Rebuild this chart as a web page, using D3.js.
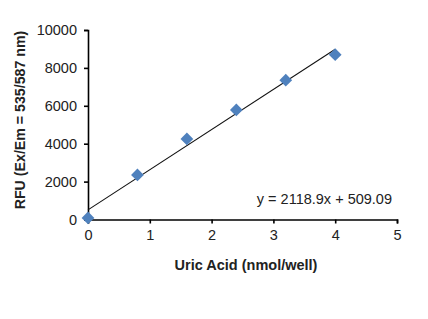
<!DOCTYPE html>
<html>
<head>
<meta charset="utf-8">
<script src="https://cdn.jsdelivr.net/npm/d3@7"></script>
<style>
  body { margin: 0; background: #fff; }
  text { font-family: "Liberation Sans", Arial, sans-serif; }
</style>
</head>
<body>
<svg id="chart" width="428" height="319"></svg>
<script>
const uricAcid = [0, 0.8, 1.6, 2.4, 3.2, 4];
const rfu = [80, 2350, 4250, 5780, 7350, 8700];
const slope = 2118.9;
const intercept = 509.09;
const equation = "y = 2118.9x + 509.09";
const xTicks = [0, 1, 2, 3, 4, 5];
const yTicks = [0, 2000, 4000, 6000, 8000, 10000];

const margin = {left: 88, right: 31, top: 30, bottom: 100};
const width = 428, height = 319;

const svg = d3.select("#chart");

const x = d3.scaleLinear().domain([0, 5]).range([margin.left, width - margin.right]);
const y = d3.scaleLinear().domain([0, 10000]).range([height - margin.bottom + 0.5, margin.top]);

const xAxis = svg.append("g")
    .attr("transform", `translate(0,${y(0)})`)
    .call(d3.axisBottom(x).tickValues(xTicks).tickFormat(d3.format("d"))
      .tickSize(4).tickSizeOuter(4).tickPadding(6));

const yAxis = svg.append("g")
    .attr("transform", `translate(${x(0)},0)`)
    .call(d3.axisLeft(y).tickValues(yTicks).tickFormat(d3.format("d"))
      .tickSize(4).tickSizeOuter(4).tickPadding(7));

[xAxis, yAxis].forEach(a => {
  a.selectAll("path, line").attr("stroke", "#000").attr("stroke-width", 1.6);
  a.selectAll("text").attr("font-size", 14.5).attr("fill", "#222");
});

// trendline
svg.append("line")
    .attr("x1", x(0)).attr("y1", y(intercept))
    .attr("x2", x(4)).attr("y2", y(slope * 4 + intercept))
    .attr("stroke", "#111")
    .attr("stroke-width", 1.1);

// markers
svg.append("g")
  .selectAll("path")
  .data(uricAcid.map((d, i) => [d, rfu[i]]))
  .join("path")
    .attr("transform", d => `translate(${x(d[0])},${y(d[1])}) rotate(45)`)
    .attr("d", "M-4.5,-4.5H4.5V4.5H-4.5Z")
    .attr("fill", "#4F81BD");

svg.append("text")
    .attr("x", 392).attr("y", 204)
    .attr("text-anchor", "end")
    .attr("font-size", 14.5)
    .attr("fill", "#222")
    .text(equation);

svg.append("text")
    .attr("x", 246).attr("y", 270)
    .attr("text-anchor", "middle")
    .attr("font-size", 14.5)
    .attr("font-weight", "bold")
    .attr("fill", "#222")
    .text("Uric Acid (nmol/well)");

svg.append("text")
    .attr("transform", `translate(25,120) rotate(-90)`)
    .attr("text-anchor", "middle")
    .attr("font-size", 14.2)
    .attr("font-weight", "bold")
    .attr("fill", "#222")
    .text("RFU (Ex/Em = 535/587 nm)");
</script>
</body>
</html>
